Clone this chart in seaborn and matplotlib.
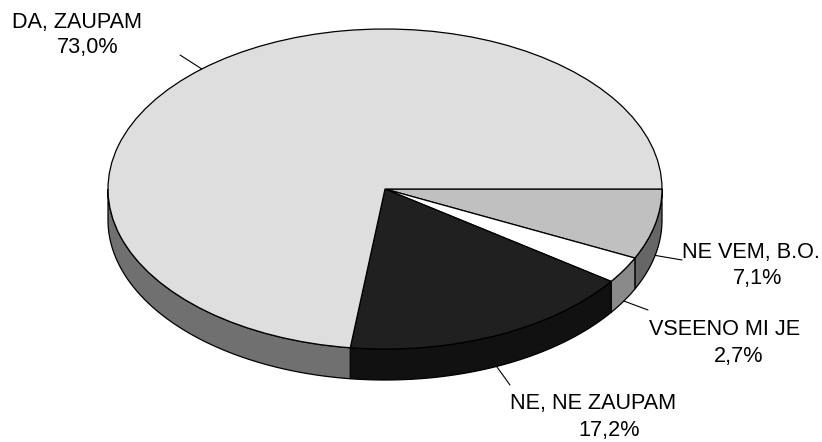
import numpy as np
import matplotlib
matplotlib.use("Agg")
import matplotlib.pyplot as plt
import seaborn as sns

# slice data, clockwise from 3 o'clock
labels = ["NE VEM, B.O.", "VSEENO MI JE", "NE, NE ZAUPAM", "DA, ZAUPAM"]
shares = [7.1, 2.7, 17.2, 73.0]
pct_text = ["7,1%", "2,7%", "17,2%", "73,0%"]

top_colors = ["#c0c0c0", "#ffffff", "#202020", "#dedede"]
side_colors = ["#666666", "#8a8a8a", "#111111", "#707070"]

sns.set_style("white")
plt.rcParams["font.family"] = ["Liberation Sans", "DejaVu Sans"]

W, H = 822, 442
CX, CY, RX, RY = 385, 189, 277, 160
DEPTH = 31 / RY  # side wall height in data units


def px(x, y):
    # image pixel -> data coords (unit circle squashed into ellipse)
    return (x - CX) / RX, (CY - y) / RY


fig = plt.figure(figsize=(W / 100, H / 100), dpi=100)
ax = fig.add_axes([0, 0, 1, 1])

# side wall of the cake (only the front half is visible)
bounds = np.concatenate([[0], np.cumsum(shares)]) / sum(shares) * 360
for i in range(len(shares)):
    a0, a1 = bounds[i], min(bounds[i + 1], 180)
    if a0 >= 180:
        continue
    t = np.radians(-np.linspace(a0, a1, 120))
    xs = np.concatenate([np.cos(t), np.cos(t[::-1])])
    ys = np.concatenate([np.sin(t), np.sin(t[::-1]) - DEPTH])
    ax.fill(xs, ys, facecolor=side_colors[i], edgecolor="black", linewidth=0.9, zorder=1)

# top face
ax.pie(shares, startangle=0, counterclock=False, colors=top_colors,
       radius=1, center=(0, 0),
       wedgeprops=dict(edgecolor="black", linewidth=0.9, zorder=2))
ax.set_aspect("auto")
x0, y0 = px(0, H)
x1, y1 = px(W, 0)
ax.set_xlim(x0, x1)
ax.set_ylim(y0, y1)
ax.axis("off")

# leader line ends and label placement (pixels: left x, baseline y)
leader_end = [(682, 260), (648, 310), (510, 385), (180, 55)]
name_pos = [(682, 258), (649, 335), (510, 409), (12, 28)]
pct_pos = [(733, 284), (714, 362), (578, 436), (57, 53)]

mids = (bounds[:-1] + bounds[1:]) / 2
for i, m in enumerate(mids):
    t = np.radians(-m)
    sx, sy = np.cos(t), np.sin(t)
    if sy < 0:
        sy -= DEPTH
    ex, ey = px(*leader_end[i])
    ax.plot([sx, ex], [sy, ey], color="black", linewidth=0.8, zorder=3)
    ax.text(*px(*name_pos[i]), labels[i], fontsize=15.6, ha="left", va="baseline", color="black")
    ax.text(*px(*pct_pos[i]), pct_text[i], fontsize=15.6, ha="left", va="baseline", color="black")

fig.savefig("out.png", dpi=100, facecolor="white")
